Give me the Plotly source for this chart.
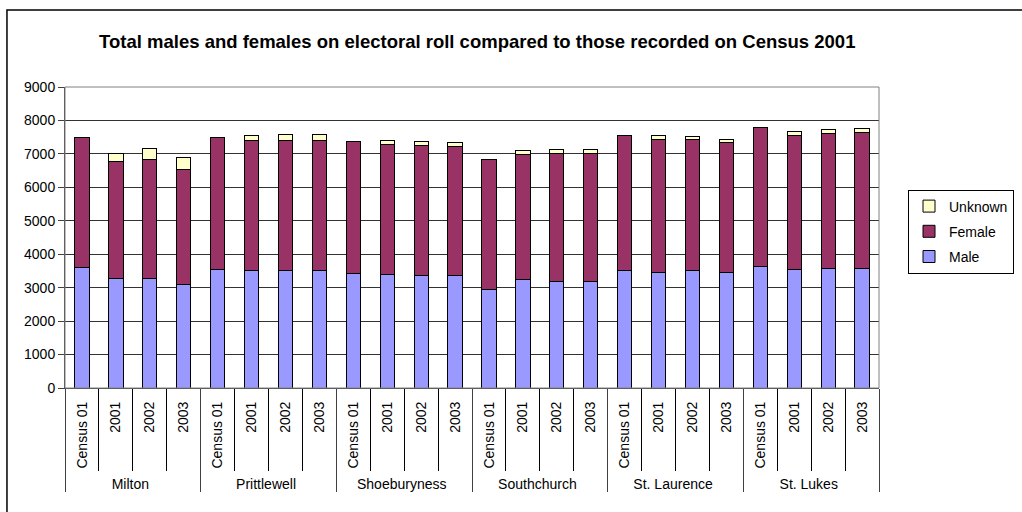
import plotly.graph_objects as go

wards = ["Milton", "Prittlewell", "Shoeburyness", "Southchurch", "St. Laurence", "St. Lukes"]
periods = ["Census 01", "2001", "2002", "2003"]

male = [3600, 3280, 3280, 3090,
        3540, 3500, 3500, 3500,
        3430, 3400, 3370, 3370,
        2950, 3230, 3190, 3190,
        3500, 3460, 3500, 3460,
        3640, 3540, 3570, 3570]
female = [3900, 3490, 3560, 3430,
          3960, 3890, 3890, 3890,
          3940, 3890, 3890, 3850,
          3890, 3740, 3810, 3810,
          4060, 3970, 3930, 3890,
          4140, 4010, 4030, 4060]
unknown = [0, 250, 320, 360,
           0, 160, 180, 180,
           0, 110, 110, 120,
           0, 120, 120, 120,
           0, 110, 80, 80,
           0, 130, 120, 120]

x_outer = [w for w in wards for _ in periods]
x_inner = [p for _ in wards for p in periods]
x = [x_outer, x_inner]

fig = go.Figure()
fig.add_trace(go.Bar(x=x, y=male, name="Male", legendgroup="m", legendrank=3,
                     marker=dict(color="#9999FF", line=dict(color="black", width=1))))
fig.add_trace(go.Bar(x=x, y=female, name="Female", legendgroup="f", legendrank=2,
                     marker=dict(color="#993366", line=dict(color="black", width=1))))
fig.add_trace(go.Bar(x=x, y=unknown, name="Unknown", legendgroup="u", legendrank=1,
                     marker=dict(color="#FFFFCC", line=dict(color="black", width=1))))

fig.update_layout(
    barmode="stack",
    bargap=0.58,
    width=1022, height=512,
    margin=dict(l=65, r=143, t=87, b=124, autoexpand=False),
    paper_bgcolor="white",
    plot_bgcolor="white",
    font=dict(family="Liberation Sans, Arial, sans-serif", size=14, color="black"),
    title=dict(text="<b>Total males and females on electoral roll compared to those recorded on Census 2001</b>",
               x=0.467, xref="container", xanchor="center",
               y=0.918, yref="container", yanchor="middle",
               font=dict(size=18.5, color="black")),
    legend=dict(traceorder="grouped", x=0.5 + (961 - 472) / 814, xanchor="center",
                y=(388 - 231.5) / 301, yanchor="middle",
                bordercolor="black", borderwidth=1, font=dict(size=14),
                itemwidth=30, tracegroupgap=4),
    showlegend=True,
)

fig.update_yaxes(range=[0, 9000], dtick=1000, showgrid=True, gridcolor="#333333", gridwidth=1,
                 showline=True, linecolor="#404040", linewidth=1,
                 ticks="outside", ticklen=6, tickcolor="#404040",
                 tickfont=dict(size=14), mirror=False, zeroline=False)
fig.update_xaxes(type="multicategory", tickangle=-90, showline=True, linecolor="#404040",
                 ticks="outside", tickson="boundaries", ticklen=82, tickcolor="black",
                 ticklabelstandoff=7,
                 showdividers=True, dividercolor="#404040", dividerwidth=1,
                 tickfont=dict(size=14))

# plot-area border (top/right)
fig.add_shape(type="rect", xref="paper", yref="paper", x0=0, x1=1, y0=0, y1=1,
              line=dict(color="#808080", width=1), layer="above")
# outer chart frame
fig.add_shape(type="rect", xref="paper", yref="paper", x0=-0.0713, x1=1.19, y0=-0.45, y1=1.256,
              line=dict(color="black", width=1.5))

fig.write_html("out.html")
